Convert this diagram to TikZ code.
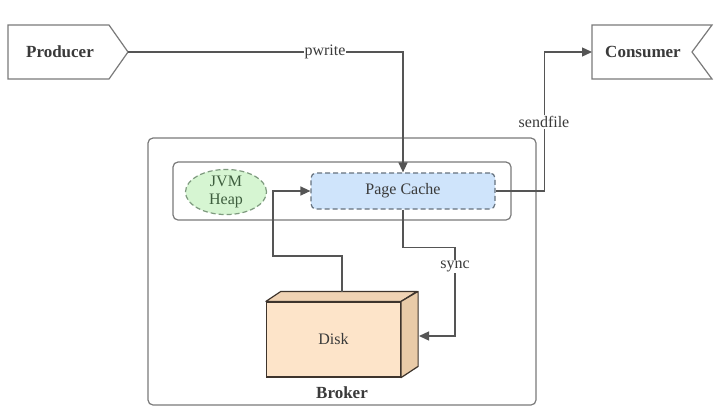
\documentclass[tikz,border=0pt]{standalone}
\usepackage{fontspec}
\setmainfont{Liberation Serif}
\usetikzlibrary{arrows.meta,shapes.geometric}
\definecolor{lin}{HTML}{555555}
\definecolor{txt}{HTML}{3A3A3A}
\definecolor{boxln}{HTML}{7A7A7A}
\definecolor{pcfill}{HTML}{CFE4FB}
\definecolor{pcln}{HTML}{66727E}
\definecolor{jvmfill}{HTML}{D6F5D2}
\definecolor{jvmln}{HTML}{7E9A7E}
\definecolor{jvmtxt}{HTML}{3E5E3E}
\definecolor{diskfront}{HTML}{FDE4C9}
\definecolor{disktop}{HTML}{F0D3B4}
\definecolor{diskside}{HTML}{E9CBA8}
\definecolor{diskln}{HTML}{3E342C}
\begin{document}
\begin{tikzpicture}[x=1pt,y=-1pt,
  reg/.style={font=\fontsize{16}{19}\selectfont, text=txt},
  bld/.style={font=\fontsize{17}{20}\selectfont\bfseries, text=txt},
  conn/.style={draw=lin, line width=1.3pt, -{Triangle[length=10pt,width=9pt]}},
  lab/.style={reg, fill=white, inner sep=1pt},
  frame/.style={draw=boxln, line width=1.2pt, rounded corners=5pt, inner sep=0pt},
  cachebox/.style={reg, draw=pcln, fill=pcfill, dash pattern=on 5pt off 3pt, line width=1.2pt, rounded corners=5pt, minimum width=184pt, minimum height=36pt, inner sep=0pt},
  jvmnode/.style={ellipse, draw=jvmln, fill=jvmfill, dash pattern=on 5pt off 3pt, line width=1.2pt, minimum width=81pt, minimum height=42pt, inner sep=0pt, align=center, font=\fontsize{16}{19}\selectfont, text=jvmtxt},
  pennant/.style={draw=boxln, line width=1.2pt, fill=white}
]
\useasboundingbox (0,0) rectangle (720,413);
\fill[white] (0,0) rectangle (720,413);

% Producer / Consumer shapes
\draw[pennant] (8,25) -- (109,25) -- (128,52) -- (109,79) -- (8,79) -- cycle;
\node[bld] (producer) at (60,52) {Producer};
\coordinate (prodtip) at (128,52);
\draw[pennant] (592,25) -- (712,25) -- (692,52) -- (712,79) -- (592,79) -- cycle;
\node[bld] (consumer) at (643,52) {Consumer};
\coordinate (conswest) at (592,52);

% Broker frames
\node[frame, minimum width=388pt, minimum height=267pt] (broker) at (342,271.5) {};
\node[frame, minimum width=338pt, minimum height=58pt] (heapbox) at (342,191) {};
\node[bld] (brokerlabel) at (342,393) {Broker};

% Page cache and JVM heap
\node[cachebox] (pc) at (403,191) {Page Cache};
\node[jvmnode] (jvm) at (226,192) {JVM\\[-1pt]Heap};

% Disk (3D box)
\node[draw=diskln, fill=diskfront, line width=1.2pt, minimum width=134pt, minimum height=75pt, inner sep=0pt, reg, text=txt] (disk) at (333.5,339.5) {Disk};
\draw[draw=diskln, fill=disktop, line width=1.2pt, line join=round] (disk.north west) -- ++(15,-10) -- ++(136,0) -- (disk.north east) -- cycle;
\draw[draw=diskln, fill=diskside, line width=1.2pt, line join=round] (disk.north east) -- ++(17,-10) -- ++(0,75) -- (disk.south east) -- cycle;
\coordinate (disktopmid) at (342,292);
\coordinate (diskright) at (419,336);

% Connectors
\draw[conn] (prodtip) -- (prodtip -| pc.north) -- (pc.north);
\node[lab] (pwrite) at (325,52) {pwrite};

\draw[conn] (pc.east) -- ++(49,0) |- (conswest);
\node[lab] (sendfile) at (544,122) {sendfile};

\draw[conn] (disktopmid) -- ++(0,-36) -| (273,191) -- (pc.west);

\draw[conn] (pc.south) -- ++(0,38) -| (455,336) -- (diskright);
\node[lab] (sync) at (455,266) {sync};
\end{tikzpicture}
\end{document}
